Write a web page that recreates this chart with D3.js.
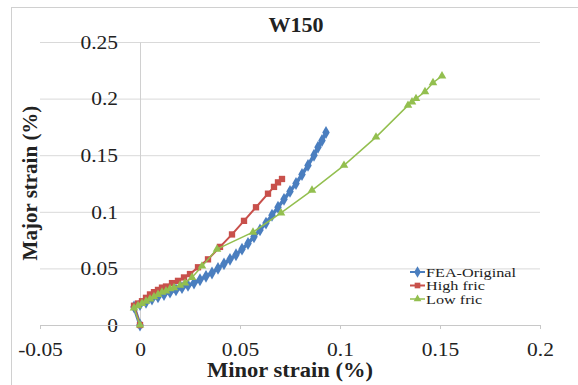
<!DOCTYPE html>
<html>
<head>
<meta charset="utf-8">
<style>
  body { margin: 0; background: #fff; }
  svg text { font-family: "Liberation Serif", "Times New Roman", serif; fill: #222; }
</style>
<script src="https://d3js.org/d3.v7.min.js"></script>
</head>
<body>
<div id="chart"></div>
<script type="text/javascript">
// values (minor strain %, major strain %)
var feaOriginal = [
  [0, 0], [-0.003, 0.016], [0.000, 0.018], [0.003, 0.020], [0.006, 0.023],
  [0.009, 0.025], [0.012, 0.027], [0.015, 0.029], [0.018, 0.031], [0.021, 0.033],
  [0.024, 0.035], [0.027, 0.037], [0.030, 0.040], [0.033, 0.043], [0.036, 0.046],
  [0.039, 0.050], [0.042, 0.054], [0.045, 0.058], [0.048, 0.062], [0.051, 0.067],
  [0.054, 0.072], [0.057, 0.078], [0.060, 0.084], [0.063, 0.090], [0.066, 0.097],
  [0.069, 0.104], [0.072, 0.111], [0.075, 0.118], [0.078, 0.125], [0.081, 0.133],
  [0.084, 0.141], [0.087, 0.150], [0.089, 0.157], [0.091, 0.163], [0.093, 0.170]
];
var highFric = [
  [0, 0], [-0.003, 0.017], [-0.001, 0.019], [0.001, 0.021], [0.003, 0.024],
  [0.005, 0.027], [0.007, 0.029], [0.009, 0.031], [0.011, 0.033], [0.013, 0.034],
  [0.016, 0.037], [0.019, 0.039], [0.022, 0.042], [0.025, 0.045], [0.029, 0.051],
  [0.034, 0.058], [0.040, 0.069], [0.046, 0.080], [0.052, 0.092], [0.058, 0.104],
  [0.064, 0.116], [0.067, 0.122], [0.069, 0.126], [0.071, 0.129]
];
var lowFric = [
  [0, 0], [-0.003, 0.015], [-0.001, 0.017], [0.001, 0.019], [0.003, 0.021],
  [0.005, 0.023], [0.007, 0.025], [0.009, 0.027], [0.011, 0.029], [0.013, 0.030],
  [0.015, 0.032], [0.017, 0.033], [0.020, 0.035], [0.0225, 0.037], [0.026, 0.042],
  [0.031, 0.052], [0.0385, 0.067], [0.0565, 0.082], [0.0705, 0.099], [0.086, 0.119],
  [0.102, 0.141], [0.118, 0.166], [0.134, 0.194], [0.136, 0.197], [0.138, 0.200],
  [0.1425, 0.206], [0.1465, 0.214], [0.151, 0.220]
];
var seriesNames = ["FEA-Original", "High fric", "Low fric"];
var xTicks = [-0.05, 0, 0.05, 0.1, 0.15, 0.2];
var yTicks = [0, 0.05, 0.1, 0.15, 0.2, 0.25];

var w = 578,
    h = 385,
    stretch = 1.1;   // text in the picture is a little wider than tall

var x = d3.scaleLinear().domain([-0.05, 0.2]).range([40, 540]);
var y = d3.scaleLinear().domain([0, 0.25]).range([325, 42]);

var series = [
  { name: seriesNames[0], data: feaOriginal, color: "#4a7ebf", symbol: d3.symbolDiamond, size: 48, width: 3.5 },
  { name: seriesNames[1], data: highFric, color: "#c8504b", symbol: d3.symbolSquare, size: 40, width: 2 },
  { name: seriesNames[2], data: lowFric, color: "#93bf4f", symbol: d3.symbolTriangle, size: 32, width: 1.5 }
];

var svg = d3.select("#chart")
    .append("svg")
    .attr("width", w)
    .attr("height", h);

// chart border (right and bottom are cut off in the picture)
svg.append("rect")
    .attr("x", 11.5).attr("y", 7.5)
    .attr("width", 600).attr("height", 400)
    .attr("fill", "#fff")
    .attr("stroke", "#d0d0d0");

// gridlines
svg.append("g")
    .attr("transform", "translate(" + x.range()[1] + ",0)")
    .call(d3.axisLeft(y).tickValues(yTicks.slice(1)).tickSize(x.range()[1] - x.range()[0]).tickFormat(""))
    .call(function(g) {
      g.select(".domain").remove();
      g.selectAll("line").attr("stroke", "#d9d9d9");
    });

// y axis at x = 0
var yAxis = svg.append("g")
    .attr("transform", "translate(" + x(0) + ",0)")
    .call(d3.axisLeft(y).tickValues(yTicks).tickSize(0).tickPadding(20).tickFormat(function(d) { return String(d); }));
yAxis.select(".domain").attr("stroke", "#d0d0d0");
yAxis.selectAll("text")
    .attr("font-size", 19.5)
    .attr("fill", "#222")
    .attr("transform", "scale(" + stretch + ",1)");

// x axis at y = 0
var xAxis = svg.append("g")
    .attr("transform", "translate(0," + y(0) + ")")
    .call(d3.axisBottom(x).tickValues(xTicks).tickSize(4).tickPadding(13).tickFormat(function(d) { return String(d); }));
xAxis.select(".domain").attr("stroke", "#c8c8c8");
xAxis.selectAll("line").attr("stroke", "#c8c8c8");
xAxis.selectAll("text")
    .attr("font-size", 19.5)
    .attr("fill", "#222")
    .attr("transform", "scale(" + stretch + ",1)");

// series
var line = d3.line()
    .x(function(d) { return x(d[0]); })
    .y(function(d) { return y(d[1]); });

series.forEach(function(s) {
  var g = svg.append("g");
  g.append("path")
      .datum(s.data)
      .attr("d", line)
      .attr("fill", "none")
      .attr("stroke", s.color)
      .attr("stroke-width", s.width);
  g.selectAll("path.pt")
      .data(s.data)
      .enter().append("path")
      .attr("class", "pt")
      .attr("d", d3.symbol().type(s.symbol).size(s.size))
      .attr("transform", function(d) { return "translate(" + x(d[0]) + "," + y(d[1]) + ")"; })
      .attr("fill", s.color);
});

// title and axis titles
svg.append("text")
    .attr("transform", "translate(296,32) scale(" + stretch + ",1)")
    .attr("text-anchor", "middle")
    .attr("font-size", 20)
    .attr("font-weight", "bold")
    .text("W150");

svg.append("text")
    .attr("transform", "translate(290,377) scale(" + stretch + ",1)")
    .attr("text-anchor", "middle")
    .attr("font-size", 20.5)
    .attr("font-weight", "bold")
    .text("Minor strain (%)");

svg.append("text")
    .attr("transform", "translate(37,183) rotate(-90)")
    .attr("text-anchor", "middle")
    .attr("font-size", 21)
    .attr("font-weight", "bold")
    .text("Major strain (%)");

// legend
var legend = svg.append("g").attr("transform", "translate(410,272)");
var item = legend.selectAll("g")
    .data(series)
    .enter().append("g")
    .attr("transform", function(d, i) { return "translate(0," + (i * 13.5) + ")"; });
item.append("line")
    .attr("x1", 0).attr("x2", 15)
    .attr("stroke", function(d) { return d.color; })
    .attr("stroke-width", function(d) { return Math.min(d.width, 2); });
item.append("path")
    .attr("d", function(d) { return d3.symbol().type(d.symbol).size(d.size * 0.8)(); })
    .attr("transform", "translate(7.5,0)")
    .attr("fill", function(d) { return d.color; });
item.append("text")
    .attr("transform", "translate(16,4.5) scale(1.2,1)")
    .attr("font-size", 13.5)
    .attr("fill", "#222")
    .text(function(d) { return d.name; });
</script>
</body>
</html>
